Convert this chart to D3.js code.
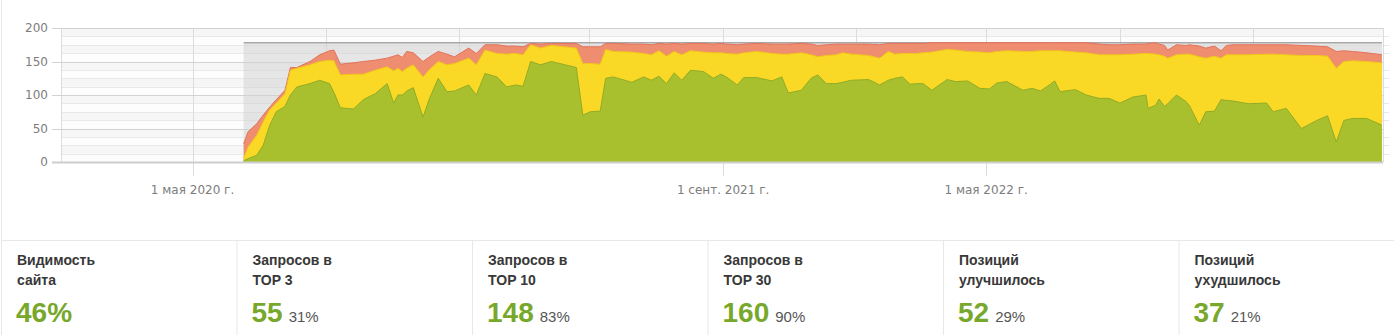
<!DOCTYPE html>
<html>
<head>
<meta charset="utf-8">
<script src="https://cdn.jsdelivr.net/npm/d3@7"></script>
<style>
  body { margin: 0; background: #fff; overflow: hidden; }
  svg { display: block; }
  .axis-label { font-family: "DejaVu Sans", Verdana, sans-serif; font-size: 12px; fill: #7d7d7d; }
  .stat-title { font-family: "Liberation Sans", Arial, sans-serif; font-size: 14px; font-weight: bold; fill: #383838; }
  .stat-value { font-family: "Liberation Sans", Arial, sans-serif; font-size: 28px; font-weight: bold; fill: #77a82b; }
  .stat-pct { font-family: "Liberation Sans", Arial, sans-serif; font-size: 15px; fill: #555; }
</style>
</head>
<body>
<svg id="chart" width="1394" height="335"></svg>
<script>
// ---- data ----
const dates = [
  "2020-06-17","2020-06-21","2020-06-29","2020-07-05","2020-07-11","2020-07-17","2020-07-25","2020-07-30","2020-08-05","2020-08-17",
  "2020-08-26","2020-09-04","2020-09-08","2020-09-14","2020-09-26","2020-10-05","2020-10-16","2020-10-27","2020-11-02","2020-11-06",
  "2020-11-10","2020-11-14","2020-11-20","2020-11-29","2020-12-05","2020-12-13","2020-12-21","2020-12-28","2021-01-10","2021-01-17",
  "2021-01-25","2021-02-05","2021-02-14","2021-02-22","2021-03-01","2021-03-08","2021-03-17","2021-03-27","2021-04-19","2021-04-25",
  "2021-05-02","2021-05-11","2021-05-16","2021-05-23","2021-06-09","2021-06-20","2021-06-27","2021-07-04","2021-07-11","2021-07-18",
  "2021-07-25","2021-08-02","2021-08-14","2021-08-23","2021-08-30","2021-09-04","2021-09-14","2021-09-20","2021-10-02","2021-10-16",
  "2021-10-25","2021-10-31","2021-11-12","2021-11-21","2021-11-27","2021-12-05","2021-12-14","2021-12-20","2021-12-28","2022-01-13",
  "2022-01-23","2022-01-31","2022-02-06","2022-02-13","2022-02-20","2022-02-26","2022-03-04","2022-03-12","2022-03-26","2022-04-03",
  "2022-04-14","2022-04-25","2022-05-04","2022-05-11","2022-05-20","2022-06-04","2022-06-12","2022-06-20","2022-06-29","2022-07-03",
  "2022-07-08","2022-07-22","2022-08-01","2022-08-13","2022-08-22","2022-09-01","2022-09-13","2022-09-25","2022-09-27","2022-10-04",
  "2022-10-07","2022-10-12","2022-10-15","2022-10-23","2022-11-01","2022-11-04","2022-11-13","2022-11-19","2022-11-27","2022-12-03",
  "2022-12-08","2022-12-14","2022-12-28","2023-01-14","2023-01-20","2023-02-01","2023-02-15","2023-03-01","2023-03-11","2023-03-19",
  "2023-03-26","2023-04-03","2023-04-16","2023-04-30"
];
const top30 = [
  27,45,57,70,82,93,107,141,141,150,
  160,166,167,146,148,150,152,155,158,160,
  156,165,163,150,157,165,161,157,170,162,
  175,175,173,173,172,177,176,177,177,172,
  172,172,177,177,176,176,175,177,176,177,
  176,177,177,176,177,176,175,176,177,176,
  176,176,177,176,174,175,176,176,176,176,
  175,177,177,177,177,177,177,178,178,178,
  178,178,178,178,178,178,178,178,178,178,
  178,178,178,176,175,175,176,176,177,178,
  176,174,167,175,174,175,173,170,173,166,
  174,175,175,175,175,175,174,173,172,165,
  166,165,163,160
];
const top10 = [
  6,22,40,60,78,88,102,137,140,145,
  150,152,151,130,131,131,137,142,136,140,
  135,140,145,127,138,150,145,147,155,145,
  167,162,161,162,160,175,170,174,170,147,
  147,146,168,165,164,162,160,166,158,165,
  160,166,164,163,163,162,161,163,165,162,
  161,161,163,160,157,159,160,163,161,159,
  155,165,161,162,162,162,163,164,168,167,
  165,164,163,165,166,165,165,166,166,166,
  166,164,163,160,160,160,161,162,162,161,
  160,158,155,160,161,161,157,155,158,155,
  160,160,160,161,161,160,159,159,158,140,
  150,151,150,148
];
const top3 = [
  2,5,10,25,55,75,83,100,112,117,
  122,117,104,81,79,93,102,117,88,100,
  100,106,111,67,95,125,105,106,115,100,
  132,127,112,115,113,150,145,150,141,70,
  75,76,125,127,119,127,122,128,117,133,
  122,137,135,125,131,127,115,126,126,121,
  127,103,107,125,130,117,117,119,122,123,
  115,122,125,127,116,117,117,107,123,120,
  121,110,109,118,120,107,110,106,116,121,
  105,108,100,95,95,88,97,100,80,85,
  94,83,87,100,90,84,55,75,76,93,
  92,91,87,88,75,80,50,62,69,30,
  62,65,65,55
];
const totalQueries = 178;
const yTicks = [0, 50, 100, 150, 200];
const xLabelDates = ["2020-05-01", "2021-09-01", "2022-05-01"];
const xLabels = ["1 мая 2020 г.", "1 сент. 2021 г.", "1 мая 2022 г."];

const statTitles = [["Видимость", "сайта"], ["Запросов в", "TOP 3"], ["Запросов в", "TOP 10"],
                    ["Запросов в", "TOP 30"], ["Позиций", "улучшилось"], ["Позиций", "ухудшилось"]];
const statValues = ["46%", "55", "148", "160", "52", "37"];
const statPercents = ["", "31%", "83%", "90%", "29%", "21%"];

// ---- setup ----
const parse = d3.timeParse("%Y-%m-%d");
const series = dates.map((d, i) => ({date: parse(d), t30: top30[i], t10: top10[i], t3: top3[i]}));

const svg = d3.select("#chart");
const plotLeft = 61, plotRight = 1383, plotTop = 28, plotBottom = 162;

const x = d3.scaleTime()
  .domain([new Date(2020, 0, 1), new Date(2023, 4, 1)])
  .range([plotLeft, plotRight]);
const y = d3.scaleLinear().domain([0, 200]).range([plotBottom, plotTop]);

// frame of the widget
svg.append("line").attr("x1", 1.5).attr("x2", 1.5).attr("y1", 0).attr("y2", 335)
  .attr("stroke", "#e6e6e6");
svg.append("line").attr("x1", 1).attr("x2", 1394).attr("y1", 240.5).attr("y2", 240.5)
  .attr("stroke", "#e8e8e8");

// striped background + minor lines
const bands = d3.range(0, 200, 12.5);
svg.append("g").selectAll("rect").data(bands).join("rect")
  .attr("x", plotLeft).attr("width", plotRight - plotLeft)
  .attr("y", d => y(d + 12.5)).attr("height", d => y(d) - y(d + 12.5))
  .attr("fill", (d, i) => i % 2 ? "#f6f6f6" : "#fdfdfd");

svg.append("g").selectAll("line").data(bands.filter(d => d % 50 != 0)).join("line")
  .attr("x1", plotLeft).attr("x2", plotRight + 6)
  .attr("y1", d => Math.round(y(d)) + 0.5).attr("y2", d => Math.round(y(d)) + 0.5)
  .attr("stroke", "#e9e9e9");

// vertical grid
const labelTimes = xLabelDates.map(d => +parse(d));
svg.append("g").selectAll("line").data(x.ticks(d3.timeMonth.every(4))).join("line")
  .attr("x1", d => Math.round(x(d)) + 0.5).attr("x2", d => Math.round(x(d)) + 0.5)
  .attr("y1", plotTop).attr("y2", d => labelTimes.includes(+d) ? 176 : plotBottom)
  .attr("stroke", "#dcdcdc");

// total queries (grey background area)
const totalData = [series[0].date, series[series.length - 1].date];
svg.append("path")
  .attr("d", d3.area().x(d => x(d)).y0(y(0)).y1(y(totalQueries))(totalData))
  .attr("fill", "#cfcfcf").attr("fill-opacity", 0.5);

// major grid lines
svg.append("g").selectAll("line").data(yTicks).join("line")
  .attr("x1", 52).attr("x2", plotRight)
  .attr("y1", d => Math.round(y(d)) + 0.5).attr("y2", d => Math.round(y(d)) + 0.5)
  .attr("stroke", "#d2d2d2");

svg.append("path")
  .attr("d", d3.line().x(d => x(d)).y(y(totalQueries))(totalData))
  .attr("stroke", "#a8a8a8").attr("stroke-width", 1.5).attr("fill", "none");

// series areas, widest first
const layers = [
  {key: "t30", fill: "#ee8d70", edge: "#e2725a"},
  {key: "t10", fill: "#f9d925", edge: "#f2c51c"},
  {key: "t3",  fill: "#a9c02e", edge: "#93ab26"}
];
layers.forEach(l => {
  svg.append("path").datum(series)
    .attr("d", d3.area().x(d => x(d.date)).y0(y(0)).y1(d => y(d[l.key])))
    .attr("fill", l.fill);
  svg.append("path").datum(series)
    .attr("d", d3.line().x(d => x(d.date)).y(d => y(d[l.key])))
    .attr("fill", "none").attr("stroke", l.edge).attr("stroke-width", 1);
});

// zero line
svg.append("line").attr("x1", 52).attr("x2", plotRight)
  .attr("y1", y(0) + 0.5).attr("y2", y(0) + 0.5)
  .attr("stroke", "#cdcdcd").attr("stroke-width", 2);

// axis labels
svg.append("g").selectAll("text").data(yTicks).join("text")
  .attr("class", "axis-label")
  .attr("x", 48).attr("y", d => y(d)).attr("dy", "0.36em")
  .attr("text-anchor", "end")
  .text(d => d);

svg.append("g").selectAll("text").data(xLabelDates).join("text")
  .attr("class", "axis-label")
  .attr("x", d => x(parse(d))).attr("y", 194)
  .attr("text-anchor", "middle")
  .text((d, i) => xLabels[i]);

// stats row
const cards = svg.append("g").selectAll("g").data(statTitles).join("g")
  .attr("transform", (d, i) => `translate(${1 + i * 235.5},0)`);

cards.filter((d, i) => i > 0).append("line")
  .attr("x1", 0.5).attr("x2", 0.5).attr("y1", 241).attr("y2", 335)
  .attr("stroke", "#e8e8e8");

cards.append("text").attr("class", "stat-title").attr("x", 16).attr("y", 265).text(d => d[0]);
cards.append("text").attr("class", "stat-title").attr("x", 16).attr("y", 285).text(d => d[1]);

cards.each(function(d, i) {
  const g = d3.select(this);
  const v = g.append("text").attr("class", "stat-value").attr("x", 15).attr("y", 322).text(statValues[i]);
  if (statPercents[i]) {
    const w = v.node().getComputedTextLength();
    g.append("text").attr("class", "stat-pct").attr("x", 15 + w + 6).attr("y", 322).text(statPercents[i]);
  }
});
</script>
</body>
</html>
